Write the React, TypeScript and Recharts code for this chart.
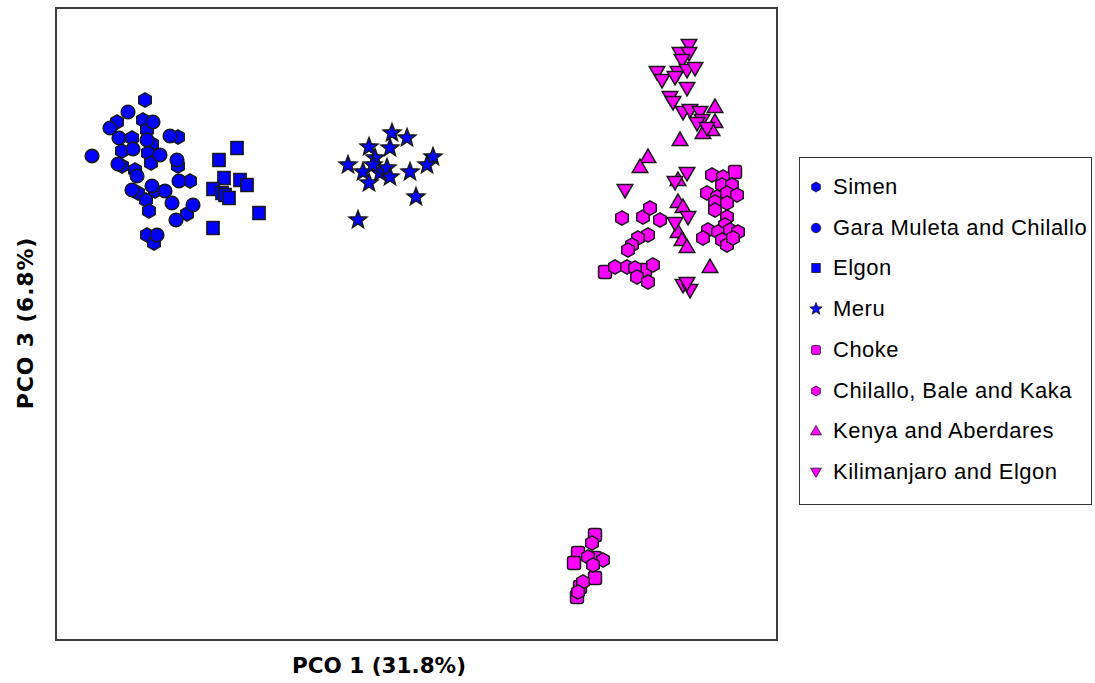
import { ScatterChart, Scatter, XAxis, YAxis, ReferenceArea } from "recharts";

// PCO scores (arbitrary PCO units, no ticks on the original)
const X_DOMAIN: [number, number] = [-36, 36.1];
const Y_DOMAIN: [number, number] = [-31.6, 31.6];

const SIMEN = [
  { x: -27.1, y: 22.4 }, { x: -29.9, y: 20.2 }, { x: -27.3, y: 20.4 }, { x: -26.9, y: 19.4 },
  { x: -28.4, y: 18.6 }, { x: -23.8, y: 18.7 }, { x: -26.4, y: 18.0 }, { x: -29.4, y: 17.3 },
  { x: -26.8, y: 17.1 }, { x: -29.4, y: 15.8 }, { x: -28.1, y: 15.4 }, { x: -26.5, y: 16.1 },
  { x: -23.8, y: 15.8 }, { x: -22.6, y: 14.3 }, { x: -27.8, y: 13.1 }, { x: -26.1, y: 13.3 },
  { x: -27.0, y: 12.4 }, { x: -26.7, y: 11.3 }, { x: -22.9, y: 11.0 }, { x: -26.9, y: 8.9 },
  { x: -26.2, y: 8.1 },
];

const GARA_MULETA = [
  { x: -28.8, y: 21.2 }, { x: -30.6, y: 19.6 }, { x: -26.3, y: 20.2 }, { x: -29.7, y: 18.6 },
  { x: -24.6, y: 18.8 }, { x: -26.9, y: 18.4 }, { x: -32.4, y: 16.8 }, { x: -28.3, y: 17.5 },
  { x: -25.6, y: 16.9 }, { x: -29.8, y: 16.0 }, { x: -27.9, y: 14.8 }, { x: -23.9, y: 16.4 },
  { x: -23.7, y: 14.3 }, { x: -28.4, y: 13.4 }, { x: -26.4, y: 13.8 }, { x: -25.1, y: 13.3 },
  { x: -24.4, y: 12.1 }, { x: -22.3, y: 11.9 }, { x: -24.0, y: 10.4 }, { x: -25.9, y: 8.9 },
];

const ELGON = [
  { x: -17.9, y: 17.6 }, { x: -19.7, y: 16.4 }, { x: -19.2, y: 14.6 }, { x: -17.6, y: 14.4 },
  { x: -16.9, y: 13.9 }, { x: -20.3, y: 13.5 }, { x: -19.4, y: 13.1 }, { x: -19.1, y: 12.9 },
  { x: -18.7, y: 12.6 }, { x: -15.7, y: 11.1 }, { x: -20.3, y: 9.6 },
];

const MERU = [
  { x: -2.4, y: 19.1 }, { x: -0.9, y: 18.6 }, { x: -4.7, y: 17.7 }, { x: -2.6, y: 17.6 },
  { x: -6.8, y: 15.9 }, { x: -4.1, y: 16.6 }, { x: 1.7, y: 16.7 }, { x: 1.1, y: 15.9 },
  { x: -5.3, y: 15.2 }, { x: -3.6, y: 15.1 }, { x: -2.9, y: 15.6 }, { x: -2.6, y: 14.7 },
  { x: -4.7, y: 14.1 }, { x: -0.6, y: 15.2 }, { x: 0.0, y: 12.7 }, { x: -5.8, y: 10.4 },
  { x: -4.3, y: 15.9 },
];

const CHOKE = [
  { x: 31.9, y: 15.2 }, { x: 18.9, y: 5.2 }, { x: 22.9, y: 5.4 },
  { x: 17.9, y: -21.1 }, { x: 16.2, y: -22.9 }, { x: 17.9, y: -23.4 }, { x: 15.8, y: -23.9 },
  { x: 17.9, y: -25.4 }, { x: 16.4, y: -26.3 }, { x: 16.1, y: -27.3 },
];

const CHILALLO_BALE_KAKA = [
  { x: 20.6, y: 10.6 }, { x: 22.7, y: 10.7 }, { x: 23.4, y: 11.6 }, { x: 24.4, y: 10.4 },
  { x: 23.2, y: 8.9 }, { x: 22.2, y: 8.6 }, { x: 21.6, y: 7.9 }, { x: 21.2, y: 7.4 },
  { x: 19.9, y: 5.7 }, { x: 21.1, y: 5.7 }, { x: 21.9, y: 5.6 }, { x: 23.7, y: 5.9 },
  { x: 22.1, y: 4.7 }, { x: 23.2, y: 4.2 },
  { x: 29.6, y: 14.9 }, { x: 30.7, y: 14.7 }, { x: 30.6, y: 13.9 }, { x: 31.6, y: 13.9 },
  { x: 29.1, y: 13.1 }, { x: 30.1, y: 12.7 }, { x: 31.1, y: 13.1 }, { x: 32.1, y: 12.9 },
  { x: 29.9, y: 12.2 }, { x: 31.1, y: 12.1 }, { x: 29.9, y: 11.4 }, { x: 31.1, y: 10.7 },
  { x: 30.9, y: 9.9 }, { x: 29.2, y: 9.4 }, { x: 30.2, y: 9.2 }, { x: 31.4, y: 9.4 },
  { x: 32.2, y: 9.2 }, { x: 28.7, y: 8.6 }, { x: 30.6, y: 8.4 }, { x: 31.1, y: 7.9 },
  { x: 31.7, y: 8.6 },
  { x: 17.6, y: -21.9 }, { x: 17.2, y: -23.3 }, { x: 18.7, y: -23.6 }, { x: 17.7, y: -24.1 },
  { x: 16.7, y: -25.8 }, { x: 16.2, y: -26.8 },
];

const KENYA_ABERDARES = [
  { x: 29.9, y: 21.7 }, { x: 29.9, y: 20.2 }, { x: 29.6, y: 19.4 }, { x: 28.7, y: 19.1 },
  { x: 26.4, y: 18.4 }, { x: 23.2, y: 16.7 }, { x: 22.4, y: 15.7 }, { x: 26.2, y: 14.4 },
  { x: 26.2, y: 12.2 }, { x: 26.7, y: 11.7 }, { x: 26.2, y: 9.2 }, { x: 26.6, y: 8.4 },
  { x: 27.1, y: 7.7 }, { x: 29.4, y: 5.7 },
];

const KILIMANJARO_ELGON = [
  { x: 27.3, y: 27.9 }, { x: 26.4, y: 27.1 }, { x: 27.3, y: 27.1 }, { x: 26.6, y: 26.4 },
  { x: 24.1, y: 25.2 }, { x: 24.6, y: 24.4 }, { x: 26.2, y: 25.2 }, { x: 27.1, y: 25.4 },
  { x: 27.9, y: 25.6 }, { x: 25.9, y: 24.7 }, { x: 27.1, y: 23.6 }, { x: 25.4, y: 22.7 },
  { x: 25.7, y: 22.2 }, { x: 26.7, y: 21.2 }, { x: 27.4, y: 21.4 }, { x: 28.4, y: 21.2 },
  { x: 28.6, y: 20.4 }, { x: 28.1, y: 20.1 }, { x: 29.1, y: 19.6 }, { x: 20.9, y: 13.4 },
  { x: 27.1, y: 15.1 }, { x: 25.9, y: 14.2 }, { x: 27.2, y: 10.7 }, { x: 25.9, y: 10.1 },
  { x: 26.7, y: 3.9 }, { x: 27.4, y: 3.4 }, { x: 27.1, y: 4.1 },
];

const BLUE = "#0000ff";
const MAGENTA = "#ff00ff";

type Kind = "hexagon" | "circle" | "square" | "star" | "rsquare" | "up" | "down";

const SERIES: { name: string; data: { x: number; y: number }[]; kind: Kind; color: string }[] = [
  { name: "Simen", data: SIMEN, kind: "hexagon", color: BLUE },
  { name: "Gara Muleta and Chilallo", data: GARA_MULETA, kind: "circle", color: BLUE },
  { name: "Elgon", data: ELGON, kind: "square", color: BLUE },
  { name: "Meru", data: MERU, kind: "star", color: BLUE },
  { name: "Choke", data: CHOKE, kind: "rsquare", color: MAGENTA },
  { name: "Chilallo, Bale and Kaka", data: CHILALLO_BALE_KAKA, kind: "hexagon", color: MAGENTA },
  { name: "Kenya and Aberdares", data: KENYA_ABERDARES, kind: "up", color: MAGENTA },
  { name: "Kilimanjaro and Elgon", data: KILIMANJARO_ELGON, kind: "down", color: MAGENTA },
];

function poly(cx: number, cy: number, n: number, r: number, start: number, inner?: number) {
  const pts: string[] = [];
  const count = inner ? n * 2 : n;
  for (let i = 0; i < count; i++) {
    const a = ((start + (360 / count) * i) * Math.PI) / 180;
    const rr = inner && i % 2 === 1 ? inner : r;
    pts.push(`${cx + rr * Math.cos(a)},${cy + rr * Math.sin(a)}`);
  }
  return pts.join(" ");
}

function drawMarker(kind: Kind, cx: number, cy: number, s: number, fill: string, sw: number) {
  const common = { fill, stroke: "#1a1a1a", strokeWidth: sw };
  switch (kind) {
    case "circle":
      return <circle cx={cx} cy={cy} r={s * 0.95} {...common} />;
    case "hexagon":
      return <polygon points={poly(cx, cy, 6, s, -90)} {...common} />;
    case "square":
      return <rect x={cx - s * 0.85} y={cy - s * 0.9} width={s * 1.7} height={s * 1.8} {...common} />;
    case "rsquare":
      return <rect x={cx - s * 0.9} y={cy - s * 0.9} width={s * 1.8} height={s * 1.8} rx={s * 0.35} {...common} />;
    case "star":
      return <polygon points={poly(cx, cy, 5, s * 1.3, -90, s * 0.55)} {...common} />;
    case "up":
      return <polygon points={poly(cx, cy + s * 0.15, 3, s * 1.25, -90)} {...common} />;
    case "down":
      return <polygon points={poly(cx, cy - s * 0.15, 3, s * 1.25, 90)} {...common} />;
  }
}

function shapeFor(kind: Kind, color: string) {
  return (props: any) => {
    const { cx, cy } = props;
    if (cx == null || cy == null) return <g />;
    return drawMarker(kind, cx, cy, 7.2, color, 1.5);
  };
}

export default function App() {
  return (
    <div style={{ position: "absolute", left: 0, top: 0, width: 1095, height: 683, background: "#fff" }}>
      <ScatterChart width={1095} height={683} margin={{ top: 8, right: 318, bottom: 43, left: 56 }}>
        <XAxis type="number" dataKey="x" domain={X_DOMAIN} hide allowDataOverflow />
        <YAxis type="number" dataKey="y" domain={Y_DOMAIN} hide allowDataOverflow />
        <ReferenceArea
          x1={X_DOMAIN[0]}
          x2={X_DOMAIN[1]}
          y1={Y_DOMAIN[0]}
          y2={Y_DOMAIN[1]}
          fill="none"
          stroke="#3c3c3c"
          strokeWidth={2}
          fillOpacity={0}
        />
        {SERIES.map((s) => (
          <Scatter
            key={s.name}
            name={s.name}
            data={s.data}
            shape={shapeFor(s.kind, s.color)}
            isAnimationActive={false}
          />
        ))}
      </ScatterChart>

      {/* axis titles */}
      <div
        style={{
          position: "absolute",
          left: 379,
          top: 653,
          transform: "translateX(-50%)",
          fontFamily: "'DejaVu Sans', sans-serif",
          fontWeight: "bold",
          fontSize: 21.5,
          whiteSpace: "nowrap",
          color: "#000",
        }}
      >
        PCO 1 (31.8%)
      </div>
      <div
        style={{
          position: "absolute",
          left: 25,
          top: 323,
          transform: "translate(-50%, -50%) rotate(-90deg)",
          fontFamily: "'DejaVu Sans', sans-serif",
          fontWeight: "bold",
          fontSize: 22,
          letterSpacing: 0.8,
          whiteSpace: "nowrap",
          color: "#000",
        }}
      >
        PCO 3 (6.8%)
      </div>

      {/* legend */}
      <div
        style={{
          position: "absolute",
          left: 799,
          top: 157,
          width: 291,
          height: 346,
          border: "1.5px solid #333",
          background: "#fff",
          fontFamily: "'Liberation Sans', Arial, sans-serif",
          fontSize: 22,
          letterSpacing: 0.5,
          color: "#000",
        }}
      >
        {SERIES.map((s, i) => (
          <div
            key={s.name}
            style={{
              position: "absolute",
              left: 7,
              top: 29 + i * 40.7 - 14,
              height: 28,
              display: "flex",
              alignItems: "center",
              whiteSpace: "nowrap",
            }}
          >
            <svg width={18} height={18} style={{ marginRight: 8 }}>
              {drawMarker(s.kind, 9, 9, 5, s.color, 0.8)}
            </svg>
            <span>{s.name}</span>
          </div>
        ))}
      </div>
    </div>
  );
}
